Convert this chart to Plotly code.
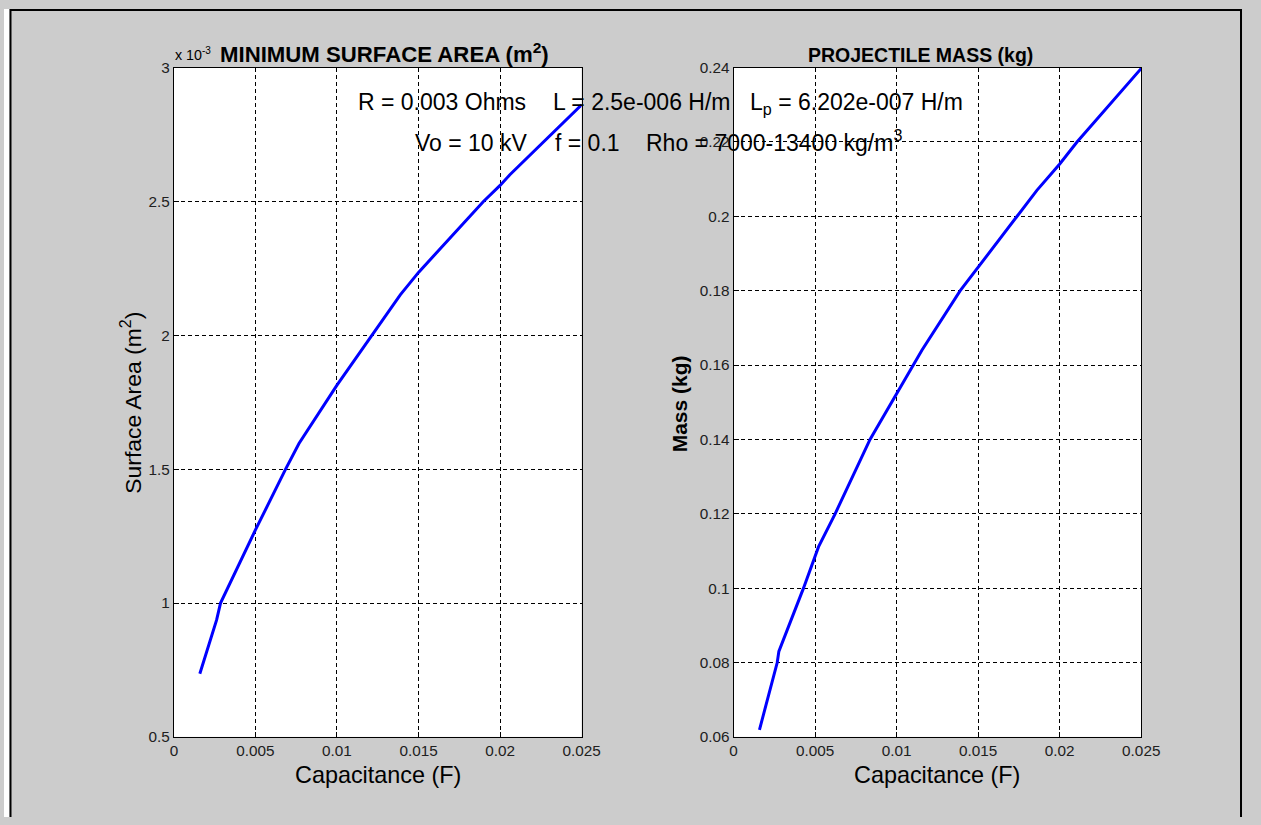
import plotly.graph_objects as go

W, H = 1261, 825

# ---- data ----
cap_area = [0.00159, 0.00262, 0.00286, 0.005, 0.00685, 0.00767, 0.01, 0.01213,
            0.01388, 0.015, 0.01898, 0.02, 0.0206, 0.025]
area_e3 = [0.736, 0.937, 1.0, 1.273, 1.5, 1.596, 1.814, 2.0,
           2.151, 2.235, 2.5, 2.56, 2.60, 2.861]

cap_mass = [0.00159, 0.00268, 0.00278, 0.00429, 0.00521, 0.00623, 0.00837, 0.01,
            0.01104, 0.01155, 0.0139, 0.015, 0.01738, 0.0186, 0.02, 0.02106, 0.025]
mass_kg = [0.0619, 0.08, 0.083, 0.10, 0.1111, 0.12, 0.14, 0.1521,
           0.16, 0.164, 0.18, 0.1863, 0.2, 0.207, 0.2141, 0.22, 0.2398]

x_ticks = [0, 0.005, 0.01, 0.015, 0.02, 0.025]
x_ticktext = ["0", "0.005", "0.01", "0.015", "0.02", "0.025"]
area_ticks = [0.5, 1, 1.5, 2, 2.5, 3]
area_ticktext = ["0.5", "1", "1.5", "2", "2.5", "3"]
mass_ticks = [0.06, 0.08, 0.10, 0.12, 0.14, 0.16, 0.18, 0.20, 0.22, 0.24]
mass_ticktext = ["0.06", "0.08", "0.1", "0.12", "0.14", "0.16", "0.18", "0.2", "0.22", "0.24"]

FONT = "Liberation Sans, Arial, Helvetica, sans-serif"

# layout helpers: target pixel positions -> paper fractions
# (small correction for the observed scaling of the rendered page)
KX, OX = 0.9824, 3.0
KY, OY = 0.979, 9.4

def px(x):
    return ((x - OX) / KX) / W

def py(y):
    return 1 - ((y - OY) / KY) / H

def fs(size):
    return round(size / KX, 1)

fig = go.Figure()
fig.add_trace(go.Scatter(x=cap_area, y=area_e3, mode="lines",
                         line=dict(color="#0000ff", width=3),
                         xaxis="x", yaxis="y", showlegend=False))
fig.add_trace(go.Scatter(x=cap_mass, y=mass_kg, mode="lines",
                         line=dict(color="#0000ff", width=3),
                         xaxis="x2", yaxis="y2", showlegend=False))

axis_common = dict(showline=True, linecolor="black", linewidth=1, mirror=True,
                   showgrid=True, gridcolor="black", gridwidth=1, griddash="4px,3px",
                   zeroline=False, ticks="inside", ticklen=5, tickcolor="black",
                   tickfont=dict(family=FONT, size=fs(15), color="#202020"),
                   fixedrange=True)

fig.update_layout(
    width=W, height=H, autosize=False,
    margin=dict(l=0, r=0, t=0, b=0),
    paper_bgcolor="#cccccc",
    plot_bgcolor="white",
    xaxis=dict(domain=[px(173), px(581)], range=[0, 0.025], anchor="y",
               tickvals=x_ticks, ticktext=x_ticktext, **axis_common),
    yaxis=dict(domain=[py(737), py(68)], range=[0.5, 3], anchor="x",
               tickvals=area_ticks, ticktext=area_ticktext, **axis_common),
    xaxis2=dict(domain=[px(733), px(1141)], range=[0, 0.025], anchor="y2",
                tickvals=x_ticks, ticktext=x_ticktext, **axis_common),
    yaxis2=dict(domain=[py(737), py(68)], range=[0.06, 0.24], anchor="x2",
                tickvals=mass_ticks, ticktext=mass_ticktext, **axis_common),
    showlegend=False,
)

def ann(text, x, y, size, xanchor="center", yanchor="middle", angle=0, bold=False):
    if bold:
        text = "<b>" + text + "</b>"
    fig.add_annotation(text=text, x=px(x), y=py(y), xref="paper", yref="paper",
                       xanchor=xanchor, yanchor=yanchor, showarrow=False,
                       textangle=angle,
                       font=dict(family=FONT, size=fs(size), color="black"))

# titles
ann("MINIMUM SURFACE AREA (m<sup>2</sup>)", 384, 53, 21.8, bold=True)
ann("PROJECTILE MASS (kg)", 920, 55, 19.2, bold=True)
# exponent label
ann("x 10<sup>-3</sup>", 172, 54, 14, xanchor="left")
# axis labels
ann("Capacitance (F)", 377, 775, 23)
ann("Capacitance (F)", 937, 775, 23)
ann("Surface Area (m<sup>2</sup>)", 130, 403, 22.5, angle=-90)
ann("Mass (kg)", 679, 404, 20.6, angle=-90, bold=True)
# parameter text
ann("R = 0.003 Ohms", 355, 102, 22.6, xanchor="left")
ann("L = 2.5e-006 H/m", 550, 102, 22.6, xanchor="left")
ann("L<sub>p</sub> = 6.202e-007 H/m", 747, 104, 22.6, xanchor="left")
ann("Vo = 10 kV", 412, 143, 22.6, xanchor="left")
ann("f = 0.1", 552, 143, 22.6, xanchor="left")
ann("Rho = 7000-13400 kg/m<sup>3</sup>", 643, 141, 22.6, xanchor="left")

# white strip left of the figure frame, and the frame (left, top, right edges)
fig.add_shape(type="rect", xref="paper", yref="paper", layer="above",
              x0=0, x1=px(8.5), y0=0, y1=1,
              fillcolor="white", line=dict(width=0))
frame = "M {l},0 L {l},{t} L {r},{t} L {r},0".format(l=px(9.5), r=0.9992, t=0.9988)
fig.add_shape(type="path", path=frame, xref="paper", yref="paper", layer="above",
              line=dict(color="black", width=2))

fig.write_html(
    "out.html",
    config={"displayModeBar": False},
    post_script="document.body.style.margin='0';",
)
